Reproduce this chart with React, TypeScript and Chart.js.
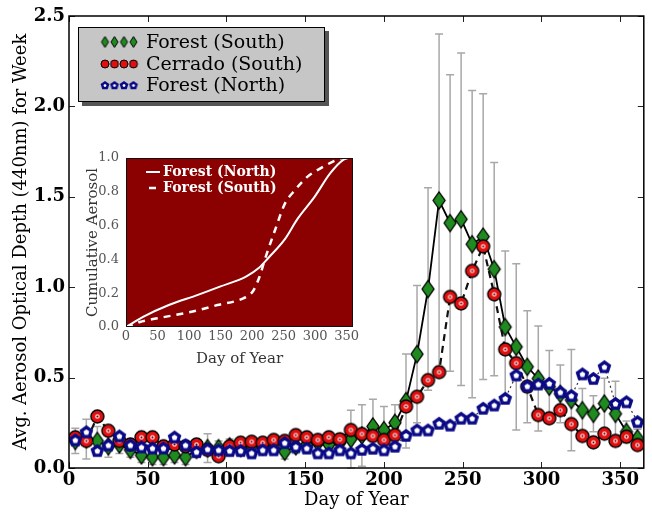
import React, { useEffect, useRef } from 'react';
import { Chart, registerables } from 'chart.js';

Chart.register(...registerables);

// ---------- data ----------
const weekDays = [4, 11, 18, 25, 32, 39, 46, 53, 60, 67, 74, 81, 88, 95, 102, 109, 116, 123, 130, 137, 144, 151, 158, 165, 172, 179, 186, 193, 200, 207, 214, 221, 228, 235, 242, 249, 256, 263, 270, 277, 284, 291, 298, 305, 312, 319, 326, 333, 340, 347, 354, 361];

const forestSouth = [0.15, 0.16, 0.15, 0.12, 0.13, 0.10, 0.07, 0.06, 0.06, 0.07, 0.06, 0.10, 0.11, 0.11, 0.12, 0.11, 0.12, 0.12, 0.13, 0.09, 0.12, 0.13, 0.14, 0.13, 0.14, 0.16, 0.18, 0.23, 0.21, 0.25, 0.37, 0.63, 0.99, 1.48, 1.355, 1.376, 1.238, 1.28, 1.10, 0.78, 0.67, 0.56, 0.495, 0.45, 0.41, 0.376, 0.32, 0.30, 0.357, 0.30, 0.20, 0.164];

const forestSouthErr = [0.07, 0.11, 0.08, 0.06, 0.05, 0.04, 0.04, 0.04, 0.04, 0.04, 0.04, 0.04, 0.08, 0.04, 0.04, 0.04, 0.04, 0.04, 0.04, 0.04, 0.04, 0.05, 0.04, 0.05, 0.05, 0.16, 0.17, 0.15, 0.13, 0.10, 0.26, 0.38, 0.56, 0.92, 0.82, 0.92, 0.85, 0.79, 0.59, 0.42, 0.46, 0.31, 0.29, 0.20, 0.16, 0.28, 0.12, 0.10, 0.14, 0.18, 0.06, 0.05];

const cerradoSouth = [0.17, 0.15, 0.285, 0.206, 0.15, 0.13, 0.17, 0.17, 0.12, 0.13, 0.12, 0.13, 0.10, 0.065, 0.12, 0.14, 0.145, 0.14, 0.155, 0.15, 0.182, 0.17, 0.155, 0.17, 0.159, 0.21, 0.188, 0.177, 0.155, 0.182, 0.34, 0.394, 0.486, 0.53, 0.946, 0.91, 1.09, 1.226, 0.961, 0.656, 0.58, 0.45, 0.293, 0.275, 0.32, 0.243, 0.177, 0.142, 0.19, 0.15, 0.173, 0.127];

const forestNorth = [0.155, 0.20, 0.096, 0.127, 0.177, 0.127, 0.116, 0.11, 0.11, 0.171, 0.127, 0.09, 0.105, 0.10, 0.096, 0.096, 0.083, 0.10, 0.10, 0.14, 0.118, 0.11, 0.083, 0.083, 0.10, 0.083, 0.103, 0.109, 0.10, 0.12, 0.18, 0.21, 0.21, 0.247, 0.237, 0.275, 0.275, 0.33, 0.348, 0.385, 0.514, 0.453, 0.464, 0.468, 0.42, 0.40, 0.52, 0.495, 0.56, 0.357, 0.366, 0.256];

const legendLabels = ['Forest (South)', 'Cerrado (South)', 'Forest (North)'];
const yTickValues = [0, 0.5, 1.0, 1.5, 2.0, 2.5];
const xTickValues = [0, 50, 100, 150, 200, 250, 300, 350];

// inset: cumulative aerosol
const insetNorthDays = [0, 27, 68, 114, 150, 191, 211, 226, 252, 272, 299, 324, 345, 352];
const insetNorthVals = [0, 0.06, 0.13, 0.19, 0.24, 0.30, 0.35, 0.41, 0.52, 0.64, 0.77, 0.91, 0.99, 1.0];
const insetSouthDays = [0, 22, 52, 104, 145, 186, 201, 211, 222, 237, 252, 268, 288, 309, 329, 342];
const insetSouthVals = [0, 0.03, 0.053, 0.09, 0.13, 0.17, 0.21, 0.29, 0.42, 0.58, 0.73, 0.81, 0.89, 0.94, 0.98, 1.0];
const insetLabels = ['Forest (North)', 'Forest (South)'];

const SERIF = "'DejaVu Serif', serif";

// ---------- marker images ----------
function makeDiamond(hw: number, hh: number, lw: number) {
  const c = document.createElement('canvas');
  c.width = Math.ceil(hw * 2 + 4);
  c.height = Math.ceil(hh * 2 + 4);
  const ctx = c.getContext('2d')!;
  const cx = c.width / 2, cy = c.height / 2;
  ctx.beginPath();
  ctx.moveTo(cx, cy - hh);
  ctx.lineTo(cx + hw, cy);
  ctx.lineTo(cx, cy + hh);
  ctx.lineTo(cx - hw, cy);
  ctx.closePath();
  ctx.fillStyle = '#1f8a1f';
  ctx.fill();
  ctx.lineWidth = lw;
  ctx.strokeStyle = '#000';
  ctx.stroke();
  return c;
}

function makeCircle(r: number, lw: number, dot: boolean) {
  const c = document.createElement('canvas');
  c.width = Math.ceil(r * 2 + 4);
  c.height = Math.ceil(r * 2 + 4);
  const ctx = c.getContext('2d')!;
  const cx = c.width / 2, cy = c.height / 2;
  ctx.beginPath();
  ctx.arc(cx, cy, r, 0, Math.PI * 2);
  ctx.fillStyle = '#e01010';
  ctx.fill();
  ctx.lineWidth = lw;
  ctx.strokeStyle = '#000';
  ctx.stroke();
  if (dot) {
    ctx.beginPath();
    ctx.arc(cx, cy, r * 0.36, 0, Math.PI * 2);
    ctx.fillStyle = '#ffd0d0';
    ctx.fill();
    ctx.beginPath();
    ctx.arc(cx, cy, r * 0.15, 0, Math.PI * 2);
    ctx.fillStyle = '#600000';
    ctx.fill();
  }
  return c;
}

function pentPath(ctx: CanvasRenderingContext2D, cx: number, cy: number, r: number) {
  ctx.beginPath();
  for (let i = 0; i < 5; i++) {
    const a = -Math.PI / 2 + (i * 2 * Math.PI) / 5;
    const px = cx + r * Math.cos(a);
    const py = cy + r * Math.sin(a);
    if (i === 0) ctx.moveTo(px, py);
    else ctx.lineTo(px, py);
  }
  ctx.closePath();
}

function makePentagon(r: number, inner: number) {
  const c = document.createElement('canvas');
  c.width = Math.ceil(r * 2 + 4);
  c.height = Math.ceil(r * 2 + 4);
  const ctx = c.getContext('2d')!;
  const cx = c.width / 2, cy = c.height / 2 + 0.5;
  pentPath(ctx, cx, cy, r);
  ctx.fillStyle = '#0a0a86';
  ctx.fill();
  pentPath(ctx, cx, cy, inner);
  ctx.fillStyle = '#ffffff';
  ctx.fill();
  return c;
}

export default function App() {
  const mainRef = useRef<HTMLCanvasElement>(null);
  const insetRef = useRef<HTMLCanvasElement>(null);

  useEffect(() => {
    const diamond = makeDiamond(6, 8.5, 1.3);
    const circle = makeCircle(6.5, 1.4, true);
    const pent = makePentagon(7.2, 3.0);
    const legDiamond = makeDiamond(3.5, 5.5, 1);
    const legCircle = makeCircle(4, 1, false);
    const legPent = makePentagon(4.6, 1.6);

    const toPts = (vals: number[]) => vals.map((v, i) => ({ x: weekDays[i], y: v }));

    const errorBars = {
      id: 'errorBars',
      beforeDatasetsDraw(chart: any) {
        const { ctx, scales } = chart;
        const xs = scales.x, ys = scales.y;
        ctx.save();
        ctx.strokeStyle = '#a8a8a8';
        ctx.lineWidth = 1.5;
        forestSouth.forEach((v, i) => {
          const e = forestSouthErr[i];
          const x = xs.getPixelForValue(weekDays[i]);
          const y1 = ys.getPixelForValue(v + e);
          const y0 = ys.getPixelForValue(Math.max(0, v - e));
          ctx.beginPath();
          ctx.moveTo(x, y1);
          ctx.lineTo(x, y0);
          ctx.moveTo(x - 4, y1);
          ctx.lineTo(x + 4, y1);
          ctx.moveTo(x - 4, y0);
          ctx.lineTo(x + 4, y0);
          ctx.stroke();
        });
        ctx.restore();
      },
    };

    const frame = {
      id: 'frame',
      afterDatasetsDraw(chart: any) {
        const { ctx, chartArea: a, scales } = chart;
        ctx.save();
        ctx.strokeStyle = '#222';
        ctx.lineWidth = 1;
        xTickValues.forEach((v) => {
          const x = Math.round(scales.x.getPixelForValue(v)) + 0.5;
          ctx.beginPath();
          ctx.moveTo(x, a.bottom);
          ctx.lineTo(x, a.bottom - 6);
          ctx.moveTo(x, a.top);
          ctx.lineTo(x, a.top + 6);
          ctx.stroke();
        });
        yTickValues.forEach((v) => {
          const y = Math.round(scales.y.getPixelForValue(v)) + 0.5;
          ctx.beginPath();
          ctx.moveTo(a.left, y);
          ctx.lineTo(a.left + 6, y);
          ctx.moveTo(a.right, y);
          ctx.lineTo(a.right - 6, y);
          ctx.stroke();
        });
        ctx.strokeStyle = '#000';
        ctx.lineWidth = 1.5;
        ctx.strokeRect(a.left, a.top, a.right - a.left, a.bottom - a.top);
        ctx.restore();
      },
      afterDraw(chart: any) {
        const { ctx } = chart;
        ctx.save();
        // legend shadow + box
        ctx.fillStyle = '#555';
        ctx.fillRect(82, 31, 247, 75);
        ctx.fillStyle = '#c6c6c6';
        ctx.fillRect(78, 27, 247, 75);
        ctx.strokeStyle = '#000';
        ctx.lineWidth = 1;
        ctx.strokeRect(78.5, 27.5, 246, 74);
        const rows = [42, 64, 85];
        const imgs = [legDiamond, legCircle, legPent];
        rows.forEach((ry, r) => {
          const img = imgs[r];
          [105, 114.5, 124, 133.5].forEach((mx) => {
            ctx.drawImage(img, mx - img.width / 2, ry - img.height / 2);
          });
          ctx.fillStyle = '#000';
          ctx.font = `19px ${SERIF}`;
          ctx.textBaseline = 'middle';
          ctx.textAlign = 'left';
          ctx.fillText(legendLabels[r], 146, ry + 1);
        });
        ctx.restore();
      },
    };

    const main = new Chart(mainRef.current!, {
      type: 'line',
      data: {
        datasets: [
          {
            label: legendLabels[0],
            data: toPts(forestSouth),
            borderColor: '#000',
            borderWidth: 1.8,
            pointStyle: diamond as any,
            pointRadius: 6,
            showLine: true,
          },
          {
            label: legendLabels[1],
            data: toPts(cerradoSouth),
            borderColor: '#111',
            borderWidth: 2.2,
            borderDash: [7, 5],
            pointStyle: circle as any,
            pointRadius: 6,
            showLine: true,
          },
          {
            label: legendLabels[2],
            data: toPts(forestNorth),
            borderColor: '#333',
            borderWidth: 1.2,
            borderDash: [2, 3],
            pointStyle: pent as any,
            pointRadius: 6,
            showLine: true,
          },
        ].reverse() as any,
      },
      options: {
        animation: false,
        responsive: false,
        maintainAspectRatio: false,
        devicePixelRatio: 1,
        layout: { padding: { top: 16, right: 1, left: 0, bottom: 0 } },
        plugins: { legend: { display: false }, tooltip: { enabled: false } },
        scales: {
          x: {
            type: 'linear',
            min: 0,
            max: 365,
            grid: { display: false, drawTicks: false },
            border: { display: false },
            ticks: {
              stepSize: 50,
              includeBounds: false,
              padding: 2,
              color: '#000',
              font: { family: SERIF, size: 18, weight: 'bold' },
            },
            title: {
              display: true,
              text: 'Day of Year',
              color: '#000',
              font: { family: SERIF, size: 18 },
              padding: { top: 0, bottom: 3 },
            },
            afterFit(s: any) {
              s.height = 46;
            },
          },
          y: {
            type: 'linear',
            min: 0,
            max: 2.5,
            grid: { display: false, drawTicks: false },
            border: { display: false },
            ticks: {
              stepSize: 0.5,
              padding: 4,
              color: '#000',
              font: { family: SERIF, size: 18, weight: 'bold' },
              callback: (v: any) => Number(v).toFixed(1),
            },
            title: {
              display: true,
              text: 'Avg. Aerosol Optical Depth (440nm) for Week',
              color: '#000',
              font: { family: SERIF, size: 18 },
              padding: { top: 11, bottom: 0 },
            },
            afterFit(s: any) {
              s.width = 69;
            },
          },
        },
      },
      plugins: [errorBars, frame],
    } as any);

    const insetBg = {
      id: 'insetBg',
      beforeDatasetsDraw(chart: any) {
        const { ctx, chartArea: a } = chart;
        ctx.save();
        ctx.fillStyle = '#8b0000';
        ctx.fillRect(a.left, a.top, a.right - a.left, a.bottom - a.top);
        ctx.restore();
      },
      afterDraw(chart: any) {
        const { ctx, chartArea: a } = chart;
        ctx.save();
        ctx.strokeStyle = '#111';
        ctx.lineWidth = 1;
        ctx.strokeRect(a.left + 0.5, a.top + 0.5, a.right - a.left - 1, a.bottom - a.top - 1);
        // legend
        ctx.strokeStyle = '#fff';
        ctx.lineWidth = 2;
        ctx.beginPath();
        ctx.moveTo(86, 32);
        ctx.lineTo(100, 32);
        ctx.stroke();
        ctx.lineWidth = 2.5;
        ctx.beginPath();
        ctx.moveTo(89, 48);
        ctx.lineTo(96, 48);
        ctx.stroke();
        ctx.fillStyle = '#fff';
        ctx.font = `bold 14px ${SERIF}`;
        ctx.textBaseline = 'middle';
        ctx.textAlign = 'left';
        ctx.fillText(insetLabels[0], 103, 32);
        ctx.fillText(insetLabels[1], 103, 48);
        ctx.restore();
      },
    };

    const inset = new Chart(insetRef.current!, {
      type: 'line',
      data: {
        datasets: [
          {
            label: insetLabels[0],
            data: insetNorthDays.map((d, i) => ({ x: d, y: insetNorthVals[i] })),
            borderColor: '#fff',
            borderWidth: 2,
            pointRadius: 0,
            cubicInterpolationMode: 'monotone',
          },
          {
            label: insetLabels[1],
            data: insetSouthDays.map((d, i) => ({ x: d, y: insetSouthVals[i] })),
            borderColor: '#fff',
            borderWidth: 2.5,
            borderDash: [7, 6],
            pointRadius: 0,
            cubicInterpolationMode: 'monotone',
          },
        ],
      },
      options: {
        animation: false,
        responsive: false,
        maintainAspectRatio: false,
        devicePixelRatio: 1,
        layout: { padding: { top: 18, right: 17, left: 0, bottom: 0 } },
        plugins: { legend: { display: false }, tooltip: { enabled: false } },
        scales: {
          x: {
            type: 'linear',
            min: 0,
            max: 360,
            grid: { display: false, drawTicks: false },
            border: { display: false },
            ticks: {
              stepSize: 50,
              includeBounds: false,
              padding: 2,
              color: '#555',
              font: { family: SERIF, size: 13 },
            },
            title: {
              display: true,
              text: 'Day of Year',
              color: '#333',
              font: { family: SERIF, size: 15 },
              padding: { top: 0, bottom: 2 },
            },
            afterFit(s: any) {
              s.height = 43;
            },
          },
          y: {
            type: 'linear',
            min: 0,
            max: 1.0,
            grid: { display: false, drawTicks: false },
            border: { display: false },
            ticks: {
              stepSize: 0.2,
              padding: 7,
              color: '#555',
              font: { family: SERIF, size: 13 },
              callback: (v: any) => Number(v).toFixed(1),
            },
            title: {
              display: true,
              text: 'Cumulative Aerosol',
              color: '#333',
              font: { family: SERIF, size: 15 },
              padding: { top: 24, bottom: 0 },
            },
            afterFit(s: any) {
              s.width = 66;
            },
          },
        },
      },
      plugins: [insetBg],
    } as any);

    return () => {
      main.destroy();
      inset.destroy();
    };
  }, []);

  return (
    <div style={{ position: 'fixed', left: 0, top: 0, width: 652, height: 514, background: '#fff' }}>
      <canvas ref={mainRef} width={652} height={514} style={{ position: 'absolute', left: 0, top: 0 }} />
      <canvas ref={insetRef} width={310} height={230} style={{ position: 'absolute', left: 60, top: 140 }} />
    </div>
  );
}
